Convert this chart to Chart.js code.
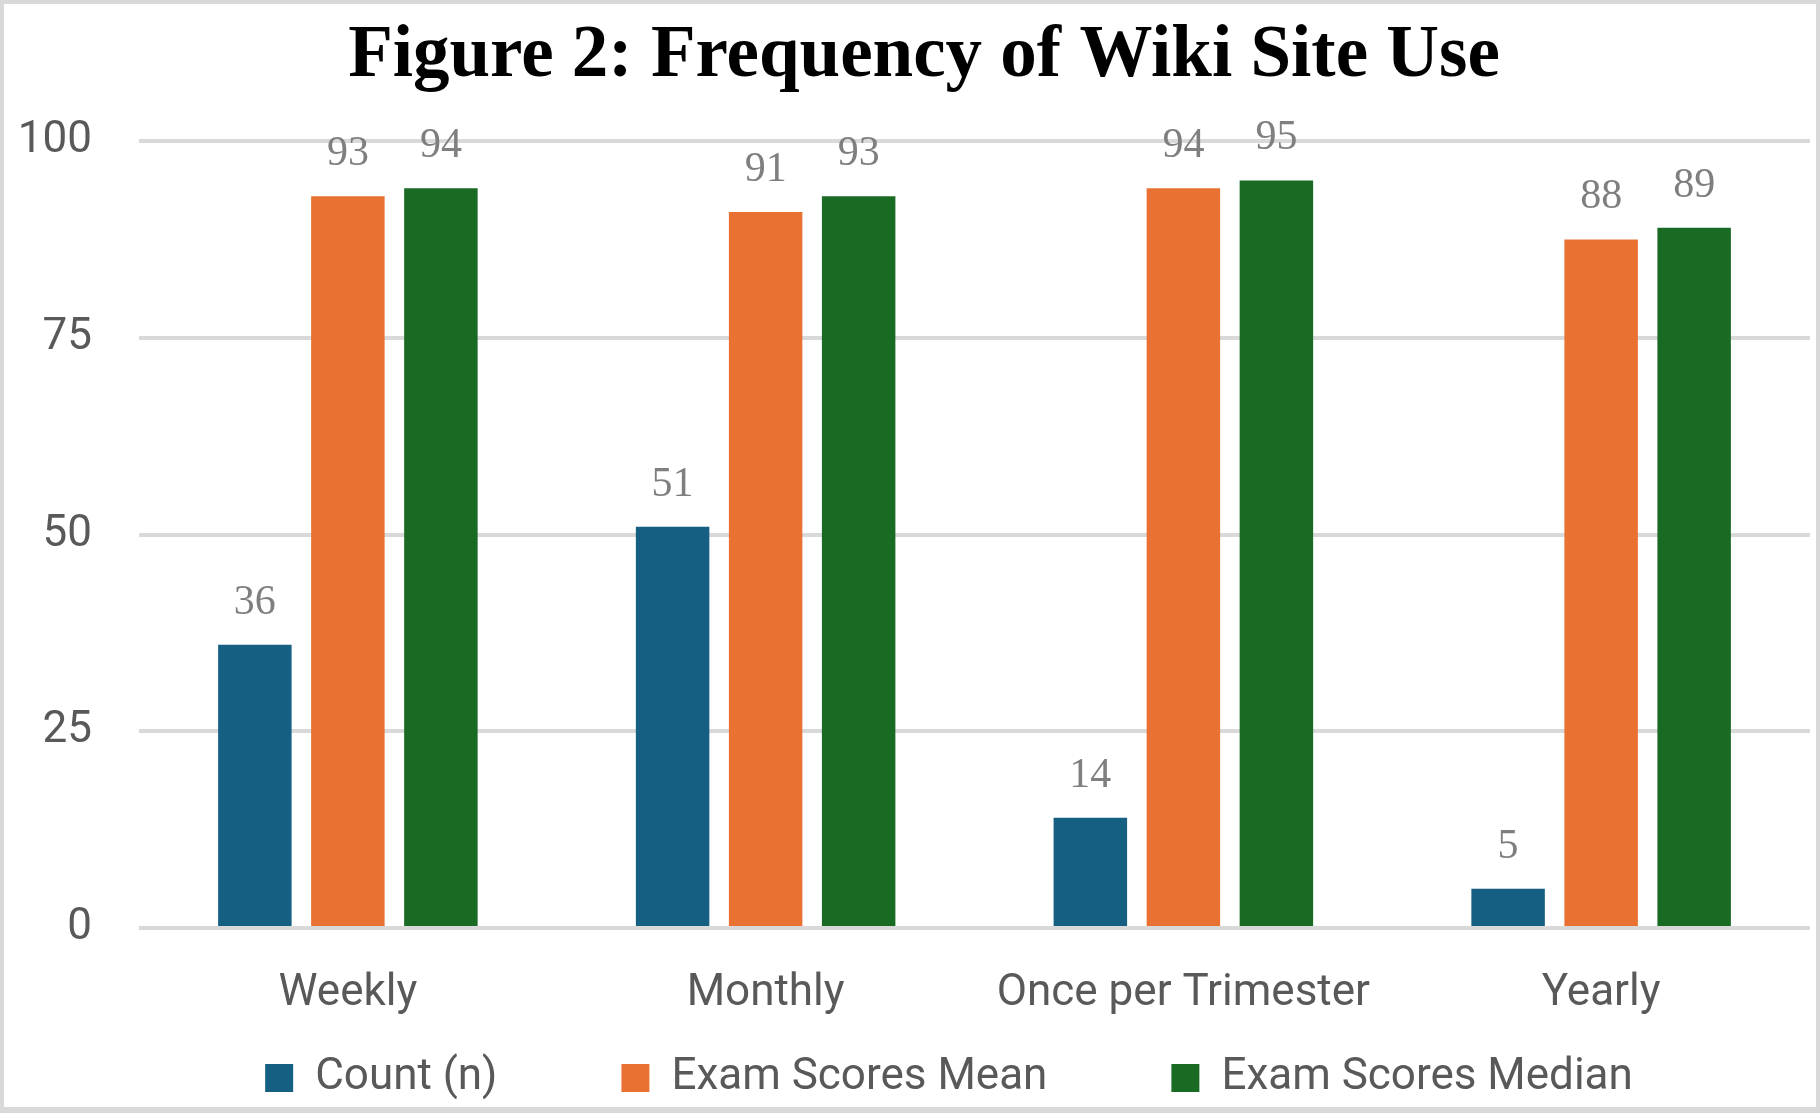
<!DOCTYPE html>
<html>
<head>
<meta charset="utf-8">
<script src="https://cdn.jsdelivr.net/npm/chart.js@4/dist/chart.umd.min.js"></script>
<style>
  html, body { margin: 0; padding: 0; background: #ffffff; }
  #frame {
    position: absolute; left: 0; top: 0;
    width: 1820px; height: 1113px; box-sizing: border-box;
    border: 4px solid #d9d9d9; border-bottom-width: 6px; background: #ffffff;
  }
  canvas { display: block; }
</style>
</head>
<body>
<div id="frame"><canvas id="chart" width="1812" height="1103"></canvas></div>
<script>
// ---- data ----
const categories = ['Weekly', 'Monthly', 'Once per Trimester', 'Yearly'];
const countN = [36, 51, 14, 5];
const examMean = [93, 91, 94, 87.5];
const examMedian = [94, 93, 95, 89];
const yTicks = [0, 25, 50, 75, 100];
const seriesNames = ['Count (n)', 'Exam Scores Mean', 'Exam Scores Median'];
const chartTitle = 'Figure 2: Frequency of Wiki Site Use';

const colors = ['#156082', '#E97132', '#196B24'];
const sansFont = 'Roboto';

const valueLabels = {
  id: 'valueLabels',
  afterDatasetsDraw(chart) {
    const ctx = chart.ctx;
    ctx.save();
    ctx.font = '42px "Liberation Serif"';
    ctx.fillStyle = '#7f7f7f';
    ctx.textAlign = 'center';
    ctx.textBaseline = 'alphabetic';
    chart.data.datasets.forEach((ds, i) => {
      const meta = chart.getDatasetMeta(i);
      meta.data.forEach((bar, j) => {
        ctx.fillText(String(Math.round(ds.data[j])), bar.x, bar.y - 31);
      });
    });
    ctx.restore();
  }
};

// fine layout adjustments (no data involved)
const layoutTweaks = {
  id: 'layoutTweaks',
  afterLayout(chart) {
    const x = chart.scales.x, y = chart.scales.y;
    if (x) { x.bottom = chart.height; }
    if (y) { y.left = 0; }
    if (chart.legend) {
      chart.legend.left += 25; chart.legend.right += 25;
      chart.legend.top += 4; chart.legend.bottom += 4;
    }
  }
};

new Chart(document.getElementById('chart'), {
  type: 'bar',
  data: {
    labels: categories,
    datasets: [
      { label: seriesNames[0], data: countN, backgroundColor: colors[0] },
      { label: seriesNames[1], data: examMean, backgroundColor: colors[1] },
      { label: seriesNames[2], data: examMedian, backgroundColor: colors[2] }
    ]
  },
  options: {
    responsive: false,
    animation: false,
    devicePixelRatio: 1,
    categoryPercentage: 0.668,
    barPercentage: 0.79,
    layout: { padding: { left: 34, right: 6, top: 0, bottom: 1 } },
    plugins: {
      title: {
        display: true,
        text: chartTitle,
        color: '#000000',
        font: { family: 'Liberation Serif', size: 73, weight: 'bold', lineHeight: 1.2 },
        padding: { top: 9.5, bottom: 40 }
      },
      legend: {
        position: 'bottom',
        labels: {
          color: '#595959',
          font: { family: sansFont, size: 44 },
          boxWidth: 28,
          boxHeight: 28,
          padding: 124
        }
      },
      tooltip: { enabled: false }
    },
    scales: {
      x: {
        grid: { display: false },
        border: { display: false },
        ticks: { color: '#595959', font: { family: sansFont, size: 44 }, padding: 32, maxRotation: 0, autoSkip: false },
        afterFit(scale) { scale.height = 0; }
      },
      y: {
        min: 0, max: 100,
        afterBuildTicks(scale) { scale.ticks = yTicks.map(v => ({ value: v })); },
        grid: { color: '#d9d9d9', lineWidth: 4, drawTicks: false },
        border: { display: false },
        ticks: { color: '#595959', font: { family: sansFont, size: 44 }, padding: 47 },
        afterFit(scale) { scale.width = 101; }
      }
    }
  },
  plugins: [valueLabels, layoutTweaks]
});
</script>
</body>
</html>
